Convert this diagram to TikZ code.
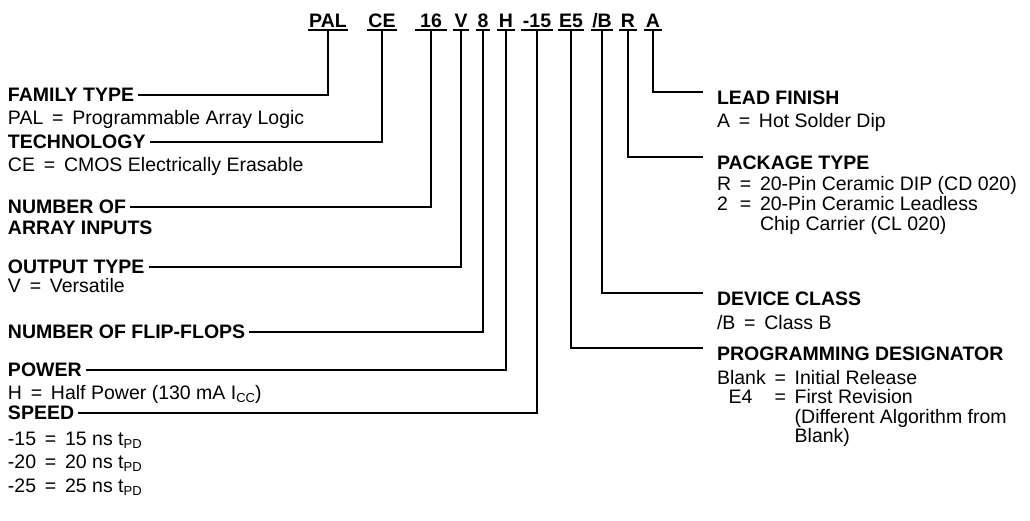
\documentclass[tikz,border=0pt]{standalone}
\usepackage{fontspec}
\setmainfont{Liberation Sans}
\usetikzlibrary{positioning}

\newcommand{\eqs}{\hspace{0.45em}=\hspace{0.45em}}
\newcommand{\lowsub}[1]{\raisebox{-0.3ex}{\fontsize{13}{13}\selectfont #1}}

\begin{document}
\begin{tikzpicture}[x=1pt,y=-1pt,
	  every node/.style={inner sep=0pt,outer sep=0pt,text=black},
	  code/.style={font=\fontsize{19.5}{22}\selectfont\bfseries,anchor=south,inner xsep=1.5pt,inner ysep=2.5pt,text height=13.6pt,text depth=0pt},
	  heading/.style={font=\fontsize{19.5}{22}\selectfont\bfseries,anchor=west,inner xsep=4pt,text height=13.6pt,text depth=0pt},
	  desc/.style={font=\fontsize{19.5}{20}\selectfont,anchor=base west},
	  conn/.style={draw=black,line width=1.7pt},
	  uline/.style={draw=black,line width=1.7pt}]

	  \useasboundingbox (0,0) rectangle (1030,520);

	  % Part number along the top
	  \node[code] (pal) at (328,30) {PAL};
	  \node[code] (ce) at (382,30) {CE};
	  \node[code,inner xsep=5pt] (inputs) at (431,30) {16};
	  \node[code] (output) at (461,30) {V};
	  \node[code] (flipflops) at (483,30) {8};
	  \node[code] (power) at (506,30) {H};
	  \node[code] (speed) at (537,30) {-15};
	  \node[code] (prog) at (571,30) {E5};
	  \node[code] (class) at (602,30) {/B};
	  \node[code] (package) at (628,30) {R};
	  \node[code] (finish) at (653,30) {A};
	  \foreach \c in {pal,ce,inputs,output,flipflops,power,speed,prog,class,package,finish}
	    \draw[uline] (\c.south west) -- (\c.south east);

	  % Left column
	  \node[heading] (familyhd) at (4,95) {FAMILY TYPE};
	  \node[desc] (familydesc) at (8,124) {PAL\eqs Programmable Array Logic};
	  \node[heading] (techhd) at (4,142) {TECHNOLOGY};
	  \node[desc] (techdesc) at (8,171) {CE\eqs CMOS Electrically Erasable};
	  \node[heading] (inputshd) at (4,207) {NUMBER OF};
	  \node[desc,font=\fontsize{19.5}{20}\selectfont\bfseries] (inputsdesc) at (8,234) {ARRAY INPUTS};
	  \node[heading] (outputhd) at (4,267) {OUTPUT TYPE};
	  \node[desc] (outputdesc) at (8,292) {V\eqs Versatile};
	  \node[heading] (flipflopshd) at (4,332) {NUMBER OF FLIP-FLOPS};
	  \node[heading] (powerhd) at (4,370) {POWER};
	  \node[desc] (powerdesc) at (8,399) {H\eqs Half Power (130 mA I\lowsub{CC})};
	  \node[heading] (speedhd) at (4,413) {SPEED};
	  \node[desc,font=\fontsize{19.5}{23.5}\selectfont] (speeddesc) at (8,445) {%
	    \begin{tabular}[t]{@{}l@{\eqs}l@{}}
	      -15 & 15 ns t\lowsub{PD}\\
	      -20 & 20 ns t\lowsub{PD}\\
	      -25 & 25 ns t\lowsub{PD}
	    \end{tabular}};

	  % Right column
	  \node[heading] (finishhd) at (713,98) {LEAD FINISH};
	  \node[desc] (finishdesc) at (717,127) {A\eqs Hot Solder Dip};
	  \node[heading] (packagehd) at (713,163) {PACKAGE TYPE};
	  \node[desc] (packagedesc) at (717,190) {%
	    \begin{tabular}[t]{@{}l@{\hspace{0.45em}}l@{\hspace{0.45em}}l@{}}
	      R & = & 20-Pin Ceramic DIP (CD 020)\\
	      2 & = & 20-Pin Ceramic Leadless\\
	        &   & Chip Carrier (CL 020)
	    \end{tabular}};
	  \node[heading] (classhd) at (713,299) {DEVICE CLASS};
	  \node[desc] (classdesc) at (717,329) {/B\eqs Class B};
	  \node[heading] (proghd) at (713,354) {PROGRAMMING DESIGNATOR};
	  \node[desc,font=\fontsize{19.5}{18}\selectfont] (progdesc) at (717,384) {%
	    \begin{tabular}[t]{@{}l@{\hspace{0.45em}}l@{\hspace{0.45em}}l@{}}
	      Blank & = & Initial Release\\
	      \hspace*{0.6em}E4 & = & First Revision\\
	        & & (Different Algorithm from\\
	        & & Blank)
	    \end{tabular}};

	  % Connectors
	  \draw[conn] (pal.south) |- (familyhd.east);
	  \draw[conn] (ce.south) |- (techhd.east);
	  \draw[conn] (inputs.south) |- (inputshd.east);
	  \draw[conn] (output.south) |- (outputhd.east);
	  \draw[conn] (flipflops.south) |- (flipflopshd.east);
	  \draw[conn] (power.south) |- (powerhd.east);
	  \draw[conn] (speed.south) |- (speedhd.east);
	  \draw[conn] (finish.south) |- ([xshift=-10pt,yshift=6pt]finishhd.west);
	  \draw[conn] (package.south) |- ([xshift=-10pt,yshift=6pt]packagehd.west);
	  \draw[conn] (class.south) |- ([xshift=-10pt,yshift=6pt]classhd.west);
	  \draw[conn] (prog.south) |- ([xshift=-10pt,yshift=6pt]proghd.west);

\end{tikzpicture}
\end{document}
